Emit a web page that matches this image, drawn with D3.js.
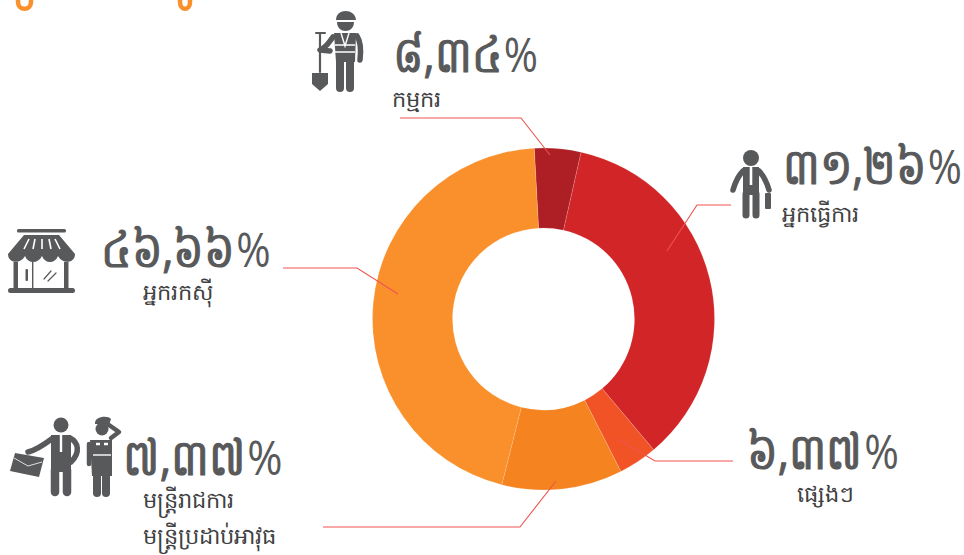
<!DOCTYPE html>
<html>
<head>
<meta charset="utf-8">
<script src="https://cdn.jsdelivr.net/npm/d3@7"></script>
<style>
  html, body { margin: 0; background: #fff; }
  svg { display: block; }
  text { font-family: "Open Sans", "Noto Sans", sans-serif; fill: #58595b; }
</style>
</head>
<body>
<svg id="chart" width="964" height="555"></svg>
<script>
const categories = ['កម្មករ', 'អ្នកធ្វើការ', 'ផ្សេងៗ', 'មន្ត្រីរាជការ', 'អ្នករកស៊ី'];
const sliceValues = [4.39, 35.33, 3.67, 11.39, 45.22];
// printed figures, these don't follow the slice sizes in the original
const printedValues = ['៨,៣៤', '៣១,២៦', '៦,៣៧', '៧,៣៧', '៤៦,៦៦'];
const sliceColors = ['#ad1f24', '#d12528', '#f15326', '#f58420', '#f9902c'];

const GREY = '#58595b';
const LINE = '#ef5350';
const $svg = d3.select('#chart');

// donut
const pie = d3.pie().sort(null).startAngle(-3.1 * Math.PI / 180).endAngle((360 - 3.1) * Math.PI / 180);
const arc = d3.arc().innerRadius(91).outerRadius(171);

$svg.append('g')
  .attr('transform', 'translate(543.5,319)')
  .selectAll('path')
  .data(pie(sliceValues))
  .join('path')
  .attr('d', arc)
  .attr('fill', (d, i) => sliceColors[i])
  .attr('stroke', '#fff')
  .attr('stroke-opacity', 0.25)
  .attr('stroke-width', 0.6);

// leader lines
const leaders = [
  [[400, 118], [521, 118], [550, 155]],
  [[731, 205], [697, 205], [667, 251]],
  [[733, 461], [655, 461], [618, 439]],
  [[323, 527], [520, 527], [556, 481]],
  [[283, 268], [357, 268], [398, 294]]
];
$svg.append('g')
  .selectAll('path')
  .data(leaders)
  .join('path')
  .attr('d', d3.line())
  .attr('fill', 'none')
  .attr('stroke', LINE)
  .attr('stroke-width', 1.1);

// figures, squeezed sideways to the printed widths, digits heavier than the percent sign
const valueBoxes = [
  { x: 393, y: 72, w: 143 },
  { x: 783, y: 184, w: 178 },
  { x: 747, y: 469, w: 150 },
  { x: 123, y: 475, w: 158 },
  { x: 101, y: 267, w: 167 }
];
const $values = $svg.append('g')
  .selectAll('text')
  .data(printedValues)
  .join('text')
  .attr('font-size', 50);

$values.append('tspan')
  .attr('stroke', GREY)
  .attr('stroke-width', 1.1)
  .text(d => d);

$values.append('tspan')
  .attr('font-size', 48)
  .attr('dx', 2)
  .text('%');

$values.attr('transform', function(d, i) {
  const box = valueBoxes[i];
  return `translate(${box.x},${box.y}) scale(${box.w / this.getComputedTextLength()},1)`;
});

// category names
const labelBoxes = [
  { x: 392, y: 107 },
  { x: 782, y: 222 },
  { x: 797, y: 502 },
  { x: 143, y: 508 },
  { x: 143, y: 300 }
];
$svg.append('g')
  .selectAll('text')
  .data(categories)
  .join('text')
  .attr('x', (d, i) => labelBoxes[i].x)
  .attr('y', (d, i) => labelBoxes[i].y)
  .attr('font-size', 22.5)
  .style('fill', '#414042')
  .text(d => d);

$svg.append('text')
  .attr('x', 143)
  .attr('y', 544)
  .attr('font-size', 22.5)
  .style('fill', '#414042')
  .text('មន្ត្រីប្រដាប់អាវុធ');

// what is left of the cropped heading
$svg.append('path')
  .attr('d', 'M18,0 L18,2 C18,11 31,11 31,2 L31,0 M180,0 L180,2 C180,11 190,11 190,2 L190,0')
  .attr('fill', 'none')
  .attr('stroke', '#f9902c')
  .attr('stroke-width', 4.5);

// icons
const $icons = $svg.append('g').attr('fill', GREY);

const limb = ($g, d, w) => $g.append('path')
  .attr('d', d)
  .attr('fill', 'none')
  .attr('stroke', GREY)
  .attr('stroke-width', w)
  .attr('stroke-linecap', 'round')
  .attr('stroke-linejoin', 'round');
const white = ($g, d, w) => $g.append('path')
  .attr('d', d)
  .attr('fill', 'none')
  .attr('stroke', '#fff')
  .attr('stroke-width', w);

// worker
const $worker = $icons.append('g');
$worker.append('path').attr('d', 'M336,20 C336,8 355,8 356,20 Z');
$worker.append('path').attr('d', 'M337,22 L354,22 C354,34 337,34 337,22 Z');
$worker.append('path').attr('d', 'M334,33 L356,33 L355,62 L336,62 Z');
limb($worker, 'M333,37 C329,42 327,47 320,50 L330,51', 5.5);
limb($worker, 'M357,36 C361,42 361,52 360,60', 5.5);
limb($worker, 'M340,62 L340,88', 8);
limb($worker, 'M350,62 L350,88', 8);
limb($worker, 'M320,33 L320,72', 2.2);
limb($worker, 'M316,33 L325,33', 2);
$worker.append('path').attr('d', 'M312,73 L328,73 L328,84 L320,91 L312,84 Z');
white($worker, 'M335,45 L355,45 M335,52 L355,52', 1.6);
white($worker, 'M341,33 L345,46 L349,33', 1.4);

// office worker
const $man = $icons.append('g');
$man.append('circle').attr('cx', 751).attr('cy', 158).attr('r', 8);
$man.append('path').attr('d', 'M743,167 L759,167 L759,195 L743,195 Z');
limb($man, 'M743,171 C738,176 735,183 733,190', 5.5);
limb($man, 'M759,171 C764,176 767,183 769,190', 5.5);
limb($man, 'M746,194 L746,215', 7);
limb($man, 'M756,194 L756,215', 7);
white($man, 'M751,167 L751,185', 2.6);
$man.append('rect').attr('x', 765).attr('y', 193).attr('width', 6).attr('height', 16).attr('rx', 1);

// shop
const $shop = $icons.append('g');
$shop.append('rect').attr('x', 17).attr('y', 229).attr('width', 49).attr('height', 3.5).attr('rx', 1.5);
$shop.append('path').attr('d', 'M24,235 L59,235 L75,254 C75,264 62,264 58,256 C55,264 45,264 42,256 C38,264 28,264 25,256 C21,264 8,264 8,254 Z');
white($shop, 'M24,249 L29,239 M33,249 L35,239 M42,249 L42,239 M51,249 L49,239 M60,249 L55,239', 1.6);
$shop.append('rect').attr('x', 13.5).attr('y', 262).attr('width', 4.5).attr('height', 27);
$shop.append('rect').attr('x', 64).attr('y', 262).attr('width', 4.5).attr('height', 27);
$shop.append('rect').attr('x', 32).attr('y', 262).attr('width', 1.4).attr('height', 27);
$shop.append('rect').attr('x', 25.5).attr('y', 269).attr('width', 2.5).attr('height', 12).attr('rx', 1);
$shop.append('rect').attr('x', 8).attr('y', 288).attr('width', 67).attr('height', 5).attr('rx', 2.5);
limb($shop, 'M44,279 L51,271 M48,281 L56,273', 1.2);

// civil servant with briefcase
const $clerk = $icons.append('g');
$clerk.append('circle').attr('cx', 61).attr('cy', 425).attr('r', 7.5);
$clerk.append('path').attr('d', 'M51,435 L71,435 L71,472 L51,472 Z');
limb($clerk, 'M53,438 C45,444 37,450 28,452', 5.5);
limb($clerk, 'M70,438 C78,442 81,452 71,462', 5.5);
limb($clerk, 'M55,470 L55,492', 8.5);
limb($clerk, 'M67,470 L67,492', 8.5);
white($clerk, 'M61,435 L61,452', 2.4);
$clerk.append('path').attr('d', 'M15,453 L44,458 L39,477 L10,471 Z');
white($clerk, 'M14,458 L28,466 L42,462', 0.8);

// soldier
const $soldier = $icons.append('g');
$soldier.append('path').attr('d', 'M95,424 C94,416 108,415 111,419 L109,425 Z');
$soldier.append('circle').attr('cx', 102).attr('cy', 429).attr('r', 6.5);
limb($soldier, 'M109,425 L119,432 L111,438', 4.5);
$soldier.append('path').attr('d', 'M90,440 L112,440 L112,476 L92,476 Z');
limb($soldier, 'M89,444 L89,464', 4.5);
limb($soldier, 'M97,474 L97,493', 8);
limb($soldier, 'M106,474 L106,493', 8);
white($soldier, 'M93,455 L111,455', 1.4);
white($soldier, 'M96,444 L100,444 M104,444 L108,444', 2.4);
</script>
</body>
</html>
